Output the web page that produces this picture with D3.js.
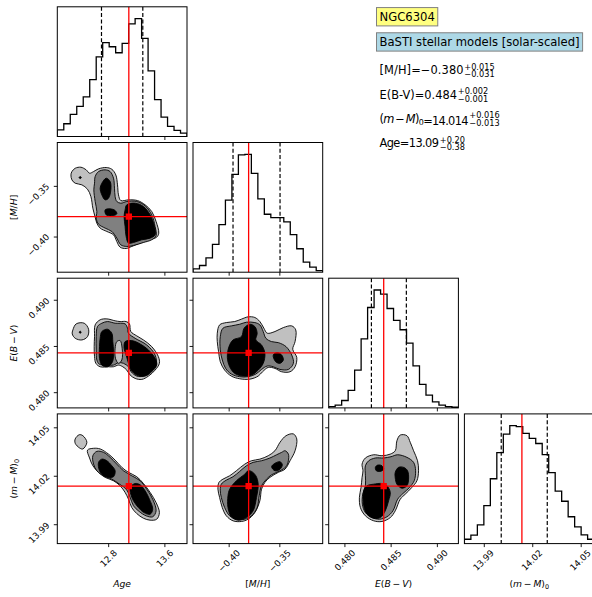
<!DOCTYPE html>
<html>
<head>
<meta charset="utf-8">
<script src="https://cdn.jsdelivr.net/npm/d3@7"></script>
<style>
  body { margin: 0; background: #fff; }
  svg { display: block; font-family: "DejaVu Sans", sans-serif; }
</style>
</head>
<body>
<svg id="chart" width="592" height="597"></svg>
<script>
// ---- data ----
// parameter order: Age, [M/H], E(B-V), (m-M)0
const ageRange = [12.076, 13.922];
const mhRange = [-0.4352, -0.3072];
const ebvRange = [0.4783, 0.49233];
const dmRange = [13.978, 14.0583];

const medians = [13.094, -0.3803, 0.48425, 14.0136];
const lowQuant = [12.705, -0.3957, 0.48292, 14.0008];
const highQuant = [13.293, -0.3493, 0.4867, 14.0293];

const ageTicks = [12.8, 13.6];
const mhTicks = [-0.4, -0.35];
const ebvTicks = [0.48, 0.485, 0.49];
const dmTicks = [13.99, 14.02, 14.05];
const ageTickLabels = ["12.8", "13.6"];
const mhTickLabels = ["\u22120.40", "\u22120.35"];
const ebvTickLabels = ["0.480", "0.485", "0.490"];
const dmTickLabels = ["13.99", "14.02", "14.05"];

// 20-bin histograms (relative counts)
const histAge = [20, 38, 66, 90, 118, 170, 238, 280, 268, 250, 278, 336, 352, 293, 196, 110, 58, 30, 18, 10];
const histMh = [10, 20, 43, 83, 142, 215, 292, 350, 352, 295, 219, 173, 163, 163, 150, 112, 70, 30, 15, 5];
const histEbv = [4, 8, 22, 52, 112, 205, 298, 350, 338, 295, 260, 232, 192, 125, 70, 38, 18, 8, 4, 2];
const histDm = [13, 25, 56, 113, 193, 271, 326, 351, 348, 328, 313, 298, 265, 211, 156, 126, 80, 50, 26, 13];

// contour outlines in data units: [level, points], level 0 light, 1 mid, 2 dark
const ageMh = [
  [0, [[12.284,-0.3359],[12.331,-0.3326],[12.412,-0.3316],[12.487,-0.3342],[12.535,-0.3375],[12.592,-0.3359],[12.663,-0.3332],[12.772,-0.3319],[12.852,-0.3336],[12.909,-0.3392],[12.933,-0.3490],[12.947,-0.3589],[12.980,-0.3645],[13.089,-0.3638],[13.217,-0.3645],[13.326,-0.3687],[13.420,-0.3753],[13.482,-0.3852],[13.520,-0.3967],[13.491,-0.4006],[13.387,-0.4032],[13.255,-0.4065],[13.136,-0.4098],[13.056,-0.4118],[12.970,-0.4105],[12.923,-0.4049],[12.876,-0.3983],[12.781,-0.3950],[12.686,-0.3917],[12.639,-0.3868],[12.615,-0.3809],[12.582,-0.3720],[12.554,-0.3605],[12.506,-0.3533],[12.426,-0.3490],[12.331,-0.3474],[12.284,-0.3441],[12.270,-0.3392]]],
  [1, [[12.606,-0.3474],[12.615,-0.3408],[12.663,-0.3359],[12.757,-0.3342],[12.828,-0.3359],[12.876,-0.3424],[12.890,-0.3523],[12.899,-0.3605],[12.923,-0.3654],[12.980,-0.3671],[13.065,-0.3654],[13.207,-0.3654],[13.326,-0.3697],[13.420,-0.3786],[13.468,-0.3901],[13.482,-0.3993],[13.420,-0.4032],[13.302,-0.4059],[13.160,-0.4088],[13.065,-0.4098],[12.980,-0.4082],[12.923,-0.4016],[12.852,-0.3950],[12.757,-0.3917],[12.663,-0.3878],[12.630,-0.3819],[12.639,-0.3753],[12.615,-0.3654],[12.596,-0.3539]]],
  [2, [[12.710,-0.3474],[12.772,-0.3424],[12.828,-0.3457],[12.838,-0.3539],[12.805,-0.3622],[12.757,-0.3638],[12.710,-0.3589],[12.686,-0.3523]]],
  [2, [[12.757,-0.3737],[12.828,-0.3727],[12.899,-0.3743],[12.923,-0.3776],[12.852,-0.3796],[12.772,-0.3786]]],
  [2, [[13.065,-0.3687],[13.184,-0.3671],[13.302,-0.3704],[13.397,-0.3786],[13.453,-0.3885],[13.468,-0.3983],[13.397,-0.4016],[13.278,-0.4032],[13.160,-0.4059],[13.089,-0.4065],[13.056,-0.4000],[13.041,-0.3901],[13.027,-0.3802],[13.041,-0.3737]]],
  [2, [[12.386,-0.3418],[12.402,-0.3408],[12.418,-0.3418],[12.402,-0.3428]]]
];

const ageEbv = [
  [0, [[12.298,0.48674],[12.345,0.48739],[12.459,0.48746],[12.521,0.48681],[12.506,0.48601],[12.426,0.48565],[12.331,0.48583],[12.289,0.48630]]],
  [2, [[12.388,0.48649],[12.402,0.48660],[12.416,0.48649],[12.402,0.48638]]],
  [0, [[12.606,0.48601],[12.615,0.48728],[12.686,0.48783],[12.781,0.48793],[12.899,0.48772],[12.970,0.48764],[13.056,0.48764],[13.103,0.48739],[13.122,0.48656],[13.207,0.48609],[13.302,0.48565],[13.420,0.48493],[13.515,0.48384],[13.529,0.48312],[13.468,0.48239],[13.373,0.48174],[13.278,0.48138],[13.184,0.48149],[13.113,0.48185],[13.065,0.48239],[13.008,0.48275],[12.947,0.48293],[12.876,0.48275],[12.805,0.48275],[12.686,0.48275],[12.625,0.48312],[12.606,0.48384],[12.601,0.48493]]],
  [1, [[12.630,0.48601],[12.648,0.48710],[12.710,0.48746],[12.791,0.48764],[12.899,0.48746],[13.041,0.48739],[13.075,0.48692],[13.089,0.48638],[13.184,0.48583],[13.349,0.48511],[13.468,0.48402],[13.482,0.48293],[13.397,0.48221],[13.302,0.48174],[13.207,0.48174],[13.127,0.48221],[13.089,0.48275],[13.018,0.48312],[12.947,0.48319],[12.876,0.48293],[12.781,0.48293],[12.672,0.48304],[12.639,0.48348],[12.630,0.48457]]],
  [0, [[12.923,0.48547],[12.970,0.48558],[12.999,0.48475],[12.994,0.48348],[12.947,0.48312],[12.904,0.48366],[12.899,0.48475]]],
  [2, [[12.710,0.48656],[12.791,0.48681],[12.852,0.48638],[12.866,0.48547],[12.876,0.48438],[12.862,0.48330],[12.791,0.48275],[12.710,0.48293],[12.677,0.48366],[12.677,0.48493],[12.686,0.48583]]],
  [2, [[13.041,0.48547],[13.136,0.48558],[13.255,0.48522],[13.373,0.48457],[13.468,0.48366],[13.491,0.48293],[13.420,0.48221],[13.326,0.48174],[13.207,0.48185],[13.127,0.48239],[13.089,0.48312],[13.056,0.48402],[13.027,0.48475]]]
];

const ageDm = [
  [0, [[12.331,14.0428],[12.388,14.0454],[12.440,14.0448],[12.497,14.0407],[12.440,14.0366],[12.393,14.0372],[12.331,14.0401]]],
  [0, [[12.506,14.0359],[12.592,14.0370],[12.686,14.0366],[12.805,14.0334],[12.899,14.0297],[12.994,14.0252],[13.089,14.0221],[13.207,14.0194],[13.302,14.0152],[13.397,14.0097],[13.482,14.0034],[13.529,13.9972],[13.491,13.9931],[13.397,13.9925],[13.302,13.9937],[13.207,13.9966],[13.136,14.0003],[13.089,14.0055],[13.041,14.0097],[12.970,14.0138],[12.876,14.0169],[12.757,14.0190],[12.663,14.0221],[12.582,14.0262],[12.535,14.0310]]],
  [1, [[12.582,14.0324],[12.639,14.0351],[12.734,14.0345],[12.828,14.0314],[12.923,14.0272],[13.018,14.0231],[13.136,14.0200],[13.255,14.0169],[13.349,14.0117],[13.434,14.0055],[13.482,13.9983],[13.434,13.9946],[13.340,13.9952],[13.241,13.9979],[13.160,14.0014],[13.113,14.0066],[13.056,14.0117],[12.961,14.0148],[12.852,14.0179],[12.734,14.0200],[12.639,14.0231],[12.592,14.0272]]],
  [2, [[12.663,14.0283],[12.710,14.0303],[12.781,14.0293],[12.852,14.0262],[12.899,14.0231],[12.876,14.0194],[12.805,14.0190],[12.734,14.0200],[12.677,14.0231]]],
  [2, [[13.113,14.0128],[13.184,14.0152],[13.255,14.0144],[13.326,14.0107],[13.387,14.0055],[13.434,13.9993],[13.397,13.9962],[13.311,13.9972],[13.231,14.0003],[13.160,14.0045],[13.122,14.0086]]]
];

const mhEbv = [
  [0, [[-0.41125,0.48638],[-0.40894,0.48728],[-0.40232,0.48753],[-0.39404,0.48764],[-0.38742,0.48790],[-0.38080,0.48815],[-0.37418,0.48808],[-0.36922,0.48764],[-0.36525,0.48692],[-0.36194,0.48638],[-0.35432,0.48656],[-0.34605,0.48699],[-0.33777,0.48717],[-0.33380,0.48674],[-0.33446,0.48547],[-0.33678,0.48464],[-0.33281,0.48377],[-0.33446,0.48275],[-0.33943,0.48221],[-0.34770,0.48221],[-0.35432,0.48257],[-0.36094,0.48268],[-0.36657,0.48221],[-0.37087,0.48174],[-0.37915,0.48141],[-0.38908,0.48145],[-0.39735,0.48174],[-0.40397,0.48239],[-0.40828,0.48330],[-0.40993,0.48438],[-0.41125,0.48547]]],
  [1, [[-0.40828,0.48601],[-0.40563,0.48692],[-0.39735,0.48717],[-0.38908,0.48735],[-0.38246,0.48757],[-0.37418,0.48753],[-0.36922,0.48728],[-0.36591,0.48656],[-0.36326,0.48583],[-0.35763,0.48547],[-0.35101,0.48536],[-0.34340,0.48493],[-0.33777,0.48402],[-0.33612,0.48312],[-0.34108,0.48246],[-0.34936,0.48246],[-0.35598,0.48275],[-0.36194,0.48283],[-0.36756,0.48246],[-0.37319,0.48196],[-0.38080,0.48167],[-0.38908,0.48167],[-0.39735,0.48196],[-0.40298,0.48257],[-0.40629,0.48348],[-0.40828,0.48457]]],
  [2, [[-0.40132,0.48377],[-0.39967,0.48493],[-0.39570,0.48565],[-0.38742,0.48601],[-0.38477,0.48692],[-0.37915,0.48735],[-0.37418,0.48710],[-0.37187,0.48638],[-0.37319,0.48565],[-0.36756,0.48511],[-0.36425,0.48420],[-0.36591,0.48312],[-0.37087,0.48239],[-0.37749,0.48185],[-0.38577,0.48174],[-0.39404,0.48203],[-0.39901,0.48275]]],
  [2, [[-0.35598,0.48402],[-0.35201,0.48428],[-0.34770,0.48402],[-0.34605,0.48348],[-0.34936,0.48312],[-0.35366,0.48330]]]
];

const mhDm = [
  [0, [[-0.41059,14.0117],[-0.40960,14.0159],[-0.40563,14.0179],[-0.39901,14.0200],[-0.39239,14.0231],[-0.38411,14.0272],[-0.37749,14.0293],[-0.36922,14.0303],[-0.36094,14.0324],[-0.35432,14.0355],[-0.34936,14.0407],[-0.34340,14.0448],[-0.33612,14.0459],[-0.33281,14.0428],[-0.33446,14.0355],[-0.33943,14.0293],[-0.34439,14.0241],[-0.35101,14.0221],[-0.35929,14.0190],[-0.36425,14.0159],[-0.36756,14.0117],[-0.36922,14.0045],[-0.37418,13.9972],[-0.38080,13.9931],[-0.38742,13.9917],[-0.39570,13.9921],[-0.40232,13.9952],[-0.40629,14.0003],[-0.40894,14.0066]]],
  [1, [[-0.40828,14.0111],[-0.40728,14.0148],[-0.40232,14.0173],[-0.39570,14.0194],[-0.38908,14.0227],[-0.38246,14.0262],[-0.37584,14.0283],[-0.36756,14.0293],[-0.35929,14.0310],[-0.35267,14.0330],[-0.34770,14.0345],[-0.34439,14.0355],[-0.34108,14.0334],[-0.34108,14.0293],[-0.34340,14.0256],[-0.34936,14.0231],[-0.35763,14.0206],[-0.36260,14.0179],[-0.36756,14.0138],[-0.36988,14.0076],[-0.37187,14.0003],[-0.37749,13.9952],[-0.38411,13.9931],[-0.39239,13.9931],[-0.39901,13.9952],[-0.40397,14.0003],[-0.40728,14.0066]]],
  [2, [[-0.40066,14.0076],[-0.39901,14.0117],[-0.39239,14.0169],[-0.38411,14.0210],[-0.38080,14.0231],[-0.37749,14.0227],[-0.37319,14.0200],[-0.37087,14.0148],[-0.37253,14.0066],[-0.37584,13.9983],[-0.38246,13.9941],[-0.39073,13.9925],[-0.39735,13.9946],[-0.40066,14.0003]]],
  [2, [[-0.35763,14.0256],[-0.35432,14.0277],[-0.34936,14.0287],[-0.34704,14.0268],[-0.34936,14.0241],[-0.35432,14.0231]]]
];

const ebvDm = [
  [0, [[0.48201,14.0231],[0.48191,14.0272],[0.48227,14.0310],[0.48317,14.0330],[0.48406,14.0324],[0.48496,14.0334],[0.48550,14.0355],[0.48568,14.0417],[0.48604,14.0452],[0.48676,14.0448],[0.48712,14.0407],[0.48748,14.0355],[0.48791,14.0293],[0.48802,14.0231],[0.48784,14.0169],[0.48730,14.0128],[0.48658,14.0086],[0.48604,14.0055],[0.48550,13.9983],[0.48496,13.9941],[0.48406,13.9917],[0.48317,13.9921],[0.48227,13.9952],[0.48173,14.0003],[0.48162,14.0066],[0.48180,14.0128],[0.48191,14.0190]]],
  [1, [[0.48227,14.0200],[0.48227,14.0262],[0.48263,14.0293],[0.48335,14.0310],[0.48424,14.0310],[0.48504,14.0318],[0.48576,14.0330],[0.48676,14.0314],[0.48748,14.0283],[0.48770,14.0231],[0.48755,14.0169],[0.48705,14.0128],[0.48633,14.0090],[0.48576,14.0055],[0.48525,13.9983],[0.48460,13.9946],[0.48381,13.9931],[0.48299,13.9941],[0.48227,13.9972],[0.48194,14.0024],[0.48198,14.0086],[0.48227,14.0138]]],
  [2, [[0.48209,14.0107],[0.48245,14.0138],[0.48317,14.0148],[0.48406,14.0152],[0.48460,14.0138],[0.48496,14.0097],[0.48478,14.0045],[0.48442,13.9983],[0.48388,13.9941],[0.48317,13.9937],[0.48245,13.9962],[0.48209,14.0014]]],
  [2, [[0.48335,14.0252],[0.48360,14.0266],[0.48406,14.0262],[0.48424,14.0241],[0.48388,14.0227],[0.48345,14.0231]]],
  [2, [[0.48550,14.0221],[0.48586,14.0252],[0.48640,14.0252],[0.48683,14.0231],[0.48694,14.0179],[0.48676,14.0138],[0.48622,14.0123],[0.48568,14.0148],[0.48550,14.0186]]]
];

// summary text block
const summaryNames = [
  [["[M/H]", "n"]],
  [["E(B-V)", "n"]],
  [["(", "n"], ["m", "i"], ["\u2009\u2212\u2009", "n"], ["M", "i"], [")", "n"], ["0", "sub"]],
  [["Age", "n"]]
];
const summaryValues = ["=\u22120.380", "=0.484", "=14.014", "=13.09"];
const summaryPlus = ["+0.015", "+0.002", "+0.016", "+0.20"];
const summaryMinus = ["\u22120.031", "\u22120.001", "\u22120.013", "\u22120.38"];

// ---- layout ----
const ranges = [ageRange, mhRange, ebvRange, dmRange];
const tickSets = [ageTicks, mhTicks, ebvTicks, dmTicks];
const tickLabelSets = [ageTickLabels, mhTickLabels, ebvTickLabels, dmTickLabels];
const hists = [histAge, histMh, histEbv, histDm];
const pairs = { "1-0": ageMh, "2-0": ageEbv, "3-0": ageDm, "2-1": mhEbv, "3-1": mhDm, "3-2": ebvDm };
const axisNames = [
  [["Age", "i"]],
  [["[", "n"], ["M", "i"], ["/", "n"], ["H", "i"], ["]", "n"]],
  [["E", "i"], ["(", "n"], ["B", "i"], ["\u2009\u2212\u2009", "n"], ["V", "i"], [")", "n"]],
  [["(", "n"], ["m", "i"], ["\u2009\u2212\u2009", "n"], ["M", "i"], [")", "n"], ["0", "sub"]]
];

const gridLeft = 57.3, gridTop = 6.8, size = 129.7, step = 135.7;
const tickFont = 8.8, labelFont = 9.2, boxFont = 11.6, lineFont = 11.4, scriptFont = 8.2;
// rendered widths of the summary lines (before the scripts) in the reference
const lineWidths = [84, 77.5, 89, 59.5];
const levelFill = ["#c0c0c0", "#808080", "#000000"];

const svg = d3.select("#chart");
const defs = svg.append("defs");

const xScales = ranges.map((r, j) =>
  d3.scaleLinear().domain(r).range([gridLeft + j * step, gridLeft + j * step + size]));
const yScales = ranges.map((r, i) =>
  d3.scaleLinear().domain(r).range([gridTop + i * step + size, gridTop + i * step]));

function mathText(sel, parts, fs) {
  let shifted = false;
  parts.forEach(([t, s]) => {
    const ts = sel.append("tspan").text(t);
    if (s === "i") ts.attr("font-style", "italic");
    if (s === "sub") {
      ts.attr("font-size", fs * 0.7).attr("dy", fs * 0.22);
      shifted = true;
    } else if (shifted) {
      ts.attr("dy", -fs * 0.22);
      shifted = false;
    }
  });
}

const contourLine = d3.line().curve(d3.curveCatmullRomClosed.alpha(0.5));

for (let i = 0; i < 4; i++) {
  for (let j = 0; j <= i; j++) {
    const x = xScales[j];
    const px = gridLeft + j * step, py = gridTop + i * step;
    const clipId = `clip-${i}-${j}`;
    defs.append("clipPath").attr("id", clipId)
      .append("rect").attr("x", px).attr("y", py).attr("width", size).attr("height", size);
    const g = svg.append("g");
    const inner = g.append("g").attr("clip-path", `url(#${clipId})`);

    if (i === j) {
      // 1D histogram
      const counts = hists[i];
      const r = ranges[i];
      const edges = d3.range(counts.length + 1).map(k => r[0] + k * (r[1] - r[0]) / counts.length);
      const yh = d3.scaleLinear().domain([0, 1.1 * d3.max(counts)]).range([py + size, py]);
      const pts = [[edges[0], 0]];
      counts.forEach((c, k) => { pts.push([edges[k], c]); pts.push([edges[k + 1], c]); });
      pts.push([edges[counts.length], 0]);
      inner.append("path")
        .attr("d", d3.line().x(d => x(d[0])).y(d => yh(d[1]))(pts))
        .attr("fill", "none").attr("stroke", "#000").attr("stroke-width", 1.3);
      [lowQuant[i], highQuant[i]].forEach(q => {
        inner.append("line")
          .attr("x1", x(q)).attr("x2", x(q)).attr("y1", py).attr("y2", py + size)
          .attr("stroke", "#000").attr("stroke-width", 1.2).attr("stroke-dasharray", "4 2.3");
      });
      inner.append("line")
        .attr("x1", x(medians[i])).attr("x2", x(medians[i])).attr("y1", py).attr("y2", py + size)
        .attr("stroke", "#ff0000").attr("stroke-width", 1.3);
    } else {
      const y = yScales[i];
      const line = contourLine.x(d => x(d[0])).y(d => y(d[1]));
      pairs[`${i}-${j}`].forEach(([lvl, pts]) => {
        inner.append("path")
          .attr("d", line(pts))
          .attr("fill", levelFill[lvl])
          .attr("stroke", "#000").attr("stroke-width", 0.9);
      });
      inner.append("line")
        .attr("x1", x(medians[j])).attr("x2", x(medians[j])).attr("y1", py).attr("y2", py + size)
        .attr("stroke", "#ff0000").attr("stroke-width", 1.3);
      inner.append("line")
        .attr("x1", px).attr("x2", px + size).attr("y1", y(medians[i])).attr("y2", y(medians[i]))
        .attr("stroke", "#ff0000").attr("stroke-width", 1.3);
      inner.append("path")
        .attr("d", d3.symbol(d3.symbolSquare, 40)())
        .attr("transform", `translate(${x(medians[j])},${y(medians[i])})`)
        .attr("fill", "#ff0000");

      // left ticks
      const ya = d3.axisLeft(y).tickValues(tickSets[i]).tickSize(3.5).tickSizeOuter(0)
        .tickFormat((d, k) => j === 0 ? tickLabelSets[i][k] : "");
      const yg = g.append("g").attr("transform", `translate(${px},0)`).call(ya)
        .attr("font-family", null).attr("font-size", tickFont);
      yg.select(".domain").remove();
      yg.selectAll(".tick line").attr("stroke", "#000").attr("stroke-width", 0.9);
      if (j === 0) {
        yg.selectAll(".tick text").each(function () {
          const len = this.getComputedTextLength();
          const s = (len + tickFont * 0.75) * Math.SQRT1_2;
          d3.select(this).attr("x", 0).attr("y", 0).attr("dy", null)
            .attr("text-anchor", "middle").attr("dominant-baseline", "central")
            .attr("fill", "#000")
            .attr("transform", `translate(${-7 - s / 2},8) rotate(-45)`);
        });
      }
    }

    // bottom ticks
    const xa = d3.axisBottom(x).tickValues(tickSets[j]).tickSize(3.5).tickSizeOuter(0)
      .tickFormat((d, k) => i === 3 ? tickLabelSets[j][k] : "");
    const xg = g.append("g").attr("transform", `translate(0,${py + size})`).call(xa)
      .attr("font-family", null).attr("font-size", tickFont);
    xg.select(".domain").remove();
    xg.selectAll(".tick line").attr("stroke", "#000").attr("stroke-width", 0.9);
    if (i === 3) {
      xg.selectAll(".tick text").each(function () {
        const len = this.getComputedTextLength();
        const s = (len + tickFont * 0.75) * Math.SQRT1_2;
        d3.select(this).attr("x", 0).attr("y", 0).attr("dy", null)
          .attr("text-anchor", "middle").attr("dominant-baseline", "central")
          .attr("fill", "#000")
          .attr("transform", `translate(${j === 3 ? -0.8 : 0},${5.5 + s / 2}) rotate(-45)`);
      });
    }

    g.append("rect")
      .attr("x", px).attr("y", py).attr("width", size).attr("height", size)
      .attr("fill", "none").attr("stroke", "#000").attr("stroke-width", 1);
  }
}

// axis labels
axisNames.forEach((parts, j) => {
  const t = svg.append("text")
    .attr("x", gridLeft + j * step + size / 2).attr("y", 587)
    .attr("text-anchor", "middle").attr("font-size", labelFont);
  mathText(t, parts, labelFont);
});
axisNames.slice(1).forEach((parts, k) => {
  const i = k + 1;
  const cy = gridTop + i * step + size / 2;
  const t = svg.append("text")
    .attr("transform", `translate(17,${cy}) rotate(-90)`)
    .attr("text-anchor", "middle").attr("font-size", labelFont);
  mathText(t, parts, labelFont);
});

// summary text block
const tx = 379.5;
function boxed(label, baseline, fill) {
  const t = svg.append("text").attr("x", tx).attr("y", baseline)
    .attr("font-size", boxFont).text(label);
  const len = t.node().getComputedTextLength();
  svg.insert("rect", () => t.node())
    .attr("x", tx - 3).attr("y", baseline - boxFont * 1.14)
    .attr("width", len + 6).attr("height", boxFont * 1.58)
    .attr("fill", fill).attr("stroke", "#808080").attr("stroke-width", 1);
}
boxed("NGC6304", 20.8, "#ffff80");
boxed("BaSTI stellar models [solar-scaled]", 46, "#add8e6");

const summaryBase = [74, 98.5, 122.5, 147];
summaryNames.forEach((parts, k) => {
  const t = svg.append("text").attr("x", tx).attr("y", summaryBase[k]).attr("font-size", lineFont)
    .attr("textLength", lineWidths[k]).attr("lengthAdjust", "spacing");
  mathText(t, parts, lineFont);
  t.append("tspan").text(summaryValues[k]);
  const end = tx + lineWidths[k] + 0.8;
  svg.append("text").attr("x", end).attr("y", summaryBase[k] - 4.3)
    .attr("font-size", scriptFont).text(summaryPlus[k]);
  svg.append("text").attr("x", end).attr("y", summaryBase[k] + 3)
    .attr("font-size", scriptFont).text(summaryMinus[k]);
});
</script>
</body>
</html>
